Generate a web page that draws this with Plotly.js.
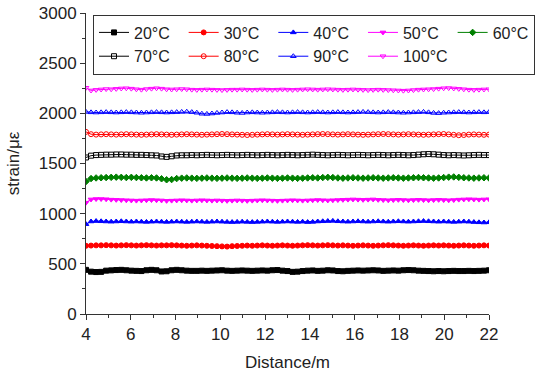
<!DOCTYPE html>
<html>
<head>
<meta charset="utf-8">
<script src="https://cdn.plot.ly/plotly-3.0.1.min.js"></script>
<style>html,body{margin:0;padding:0;background:#fff;}#chart{width:550px;height:375px;}</style>
</head>
<body>
<div id="chart"></div>
<script>
const distance = [4,4.225,4.45,4.675,4.9,5.125,5.35,5.575,5.8,6.025,
  6.25,6.475,6.7,6.925,7.15,7.375,7.6,7.825,8.05,8.275,
  8.5,8.725,8.95,9.175,9.4,9.625,9.85,10.075,10.3,10.525,
  10.75,10.975,11.2,11.425,11.65,11.875,12.1,12.325,12.55,12.775,
  13,13.225,13.45,13.675,13.9,14.125,14.35,14.575,14.8,15.025,
  15.25,15.475,15.7,15.925,16.15,16.375,16.6,16.825,17.05,17.275,
  17.5,17.725,17.95,18.175,18.4,18.625,18.85,19.075,19.3,19.525,
  19.75,19.975,20.2,20.425,20.65,20.875,21.1,21.325,21.55,21.775,
  22];

const s20 = [440,422,418,420,432,435,438,440,436,432,
  430,428,436,440,436,424,426,436,440,436,
  432,430,430,432,430,432,434,436,432,430,
  432,434,432,430,432,434,432,436,438,432,
  428,420,422,428,432,434,430,432,436,434,
  428,426,430,432,434,432,434,436,434,430,
  432,434,432,436,438,436,432,430,428,426,
  428,426,428,430,428,428,430,428,430,432,
  436];
const s30 = [680,682,684,684,686,684,682,684,686,684,
  682,684,686,684,682,684,684,686,684,682,
  680,682,684,682,680,678,676,674,672,676,
  678,680,682,680,682,684,682,680,682,684,
  682,680,682,684,686,684,682,684,686,684,
  682,684,682,680,682,684,682,680,682,684,
  686,684,682,680,682,684,682,680,682,684,
  682,684,682,680,682,684,682,680,682,684,
  682];
const s40 = [895,922,926,924,922,920,922,924,922,920,
  922,920,918,920,922,920,918,920,922,920,
  918,920,922,920,918,920,922,920,918,916,
  918,920,918,916,918,920,922,920,918,920,
  922,920,918,920,916,918,922,924,926,928,
  924,922,920,922,924,922,920,922,924,922,
  920,922,924,922,920,922,924,926,924,922,
  920,922,920,918,920,922,920,916,914,912,
  914];
const s50 = [1110,1142,1146,1146,1144,1140,1138,1136,1134,1132,
  1130,1132,1134,1136,1134,1132,1128,1130,1132,1134,
  1132,1130,1132,1134,1132,1130,1132,1130,1128,1130,
  1132,1130,1128,1130,1132,1134,1132,1130,1128,1130,
  1132,1134,1132,1130,1132,1134,1136,1134,1132,1134,
  1136,1138,1140,1142,1140,1138,1140,1142,1138,1136,
  1134,1136,1138,1136,1134,1136,1138,1136,1134,1136,
  1138,1136,1134,1136,1140,1142,1144,1142,1140,1142,
  1144];
const s60 = [1320,1350,1356,1358,1360,1362,1364,1362,1360,1362,
  1360,1358,1356,1358,1356,1348,1338,1340,1350,1354,
  1356,1354,1352,1354,1356,1354,1352,1354,1356,1354,
  1352,1354,1356,1354,1352,1354,1356,1354,1352,1354,
  1356,1354,1352,1354,1356,1358,1356,1360,1362,1360,
  1356,1354,1356,1358,1356,1354,1356,1358,1356,1354,
  1356,1358,1356,1354,1356,1358,1360,1358,1356,1354,
  1356,1360,1364,1366,1362,1358,1356,1354,1356,1358,
  1356];
const s70 = [1560,1578,1584,1586,1588,1588,1590,1590,1588,1588,
  1586,1586,1584,1582,1580,1570,1566,1572,1580,1582,
  1582,1584,1582,1584,1586,1584,1582,1584,1586,1584,
  1582,1584,1586,1584,1582,1584,1586,1584,1582,1584,
  1586,1584,1582,1584,1586,1588,1586,1584,1582,1584,
  1586,1584,1582,1584,1586,1584,1582,1584,1586,1584,
  1582,1584,1586,1584,1582,1584,1588,1592,1594,1592,
  1588,1584,1582,1584,1582,1580,1582,1584,1586,1584,
  1584];
const s80 = [1815,1792,1788,1790,1792,1790,1788,1790,1792,1790,
  1788,1786,1788,1790,1792,1790,1788,1786,1788,1790,
  1792,1790,1788,1786,1788,1790,1792,1794,1792,1790,
  1788,1786,1784,1786,1788,1790,1792,1790,1788,1790,
  1792,1790,1788,1786,1788,1790,1792,1794,1792,1790,
  1788,1790,1792,1790,1788,1786,1788,1790,1792,1794,
  1792,1790,1788,1790,1792,1790,1788,1786,1788,1790,
  1792,1794,1790,1786,1782,1784,1788,1790,1788,1786,
  1788];
const s90 = [2014,2010,2008,2010,2012,2010,2008,2010,2012,2010,
  2008,2006,2008,2010,2012,2010,2008,2010,2012,2014,
  2016,2012,2006,1996,1994,1998,2004,2008,2012,2010,
  2006,2004,2008,2010,2008,2006,2008,2010,2012,2010,
  2008,2010,2012,2010,2008,2010,2012,2010,2008,2010,
  2012,2010,2008,2010,2012,2014,2012,2010,2008,2010,
  2012,2010,2008,2006,2008,2010,2012,2014,2010,2004,
  2002,2006,2008,2010,2012,2010,2008,2010,2012,2010,
  2012];
const s100 = [2255,2228,2234,2238,2242,2240,2244,2248,2250,2246,
  2240,2236,2242,2246,2250,2246,2240,2238,2240,2242,
  2240,2236,2234,2236,2238,2236,2234,2232,2234,2236,
  2236,2238,2236,2234,2236,2238,2236,2234,2236,2238,
  2236,2234,2236,2238,2240,2238,2236,2238,2240,2238,
  2236,2234,2236,2238,2236,2234,2232,2234,2236,2234,
  2232,2230,2228,2226,2228,2232,2236,2238,2240,2242,
  2246,2250,2252,2248,2244,2240,2236,2234,2236,2238,
  2240];

const seriesNames = ['20°C','30°C','40°C','50°C','60°C','70°C','80°C','90°C','100°C'];
const seriesValues = [s20,s30,s40,s50,s60,s70,s80,s90,s100];
const seriesColors = ['#000000','#ff0000','#0000ff','#ff00ff','#008000','#000000','#ff0000','#0000ff','#ff00ff'];
const seriesSymbols = ['square','circle','triangle-up','triangle-down','diamond','square-open','circle-open','triangle-up-open','triangle-down-open'];

const traces = seriesNames.map((name, i) => ({
  type: 'scatter',
  mode: 'lines+markers',
  name: name,
  x: distance,
  y: seriesValues[i],
  line: {color: seriesColors[i], width: 1},
  marker: {color: seriesColors[i], symbol: seriesSymbols[i], size: 5, line: {color: seriesColors[i], width: 1}}
}));

const FONT = 'Arial, "Liberation Sans", sans-serif';
const plotW = 550 - 86 - 5;
const layout = {
  width: 550, height: 375,
  paper_bgcolor: '#ffffff', plot_bgcolor: '#ffffff',
  margin: {l: 86, r: 5, t: 13, b: 61},
  font: {family: FONT, size: 17, color: '#222222'},
  showlegend: true,
  legend: {
    orientation: 'h',
    x: 7 / plotW, xanchor: 'left',
    y: 0.995, yanchor: 'top',
    bordercolor: '#333333', borderwidth: 1,
    bgcolor: '#ffffff',
    font: {family: FONT, size: 16, color: '#222222'}
  },
  xaxis: {
    domain: [0, 403 / plotW],
    range: [4, 22], dtick: 2, tick0: 4,
    showgrid: false, zeroline: false,
    showline: true, linecolor: '#333333', linewidth: 1,
    ticks: 'outside', ticklen: 5, tickwidth: 1, tickcolor: '#333333',
    minor: {ticks: 'outside', dtick: 1, tick0: 4, ticklen: 3, tickcolor: '#333333', showgrid: false},
    tickfont: {family: FONT, size: 17, color: '#222222'},
    title: {text: 'Distance/m', font: {family: FONT, size: 17, color: '#222222'}, standoff: 12}
  },
  yaxis: {
    range: [0, 3000], dtick: 500, tick0: 0,
    showgrid: false, zeroline: false,
    showline: true, linecolor: '#333333', linewidth: 1,
    ticks: 'outside', ticklen: 5, tickwidth: 1, tickcolor: '#333333',
    minor: {ticks: 'outside', dtick: 250, tick0: 0, ticklen: 3, tickcolor: '#333333', showgrid: false},
    tickfont: {family: FONT, size: 17, color: '#222222'},
    title: {text: 'strain/με', font: {family: FONT, size: 17, color: '#222222'}, standoff: 14}
  }
};

Plotly.newPlot('chart', traces, layout, {staticPlot: true, displayModeBar: false});
</script>
</body>
</html>
